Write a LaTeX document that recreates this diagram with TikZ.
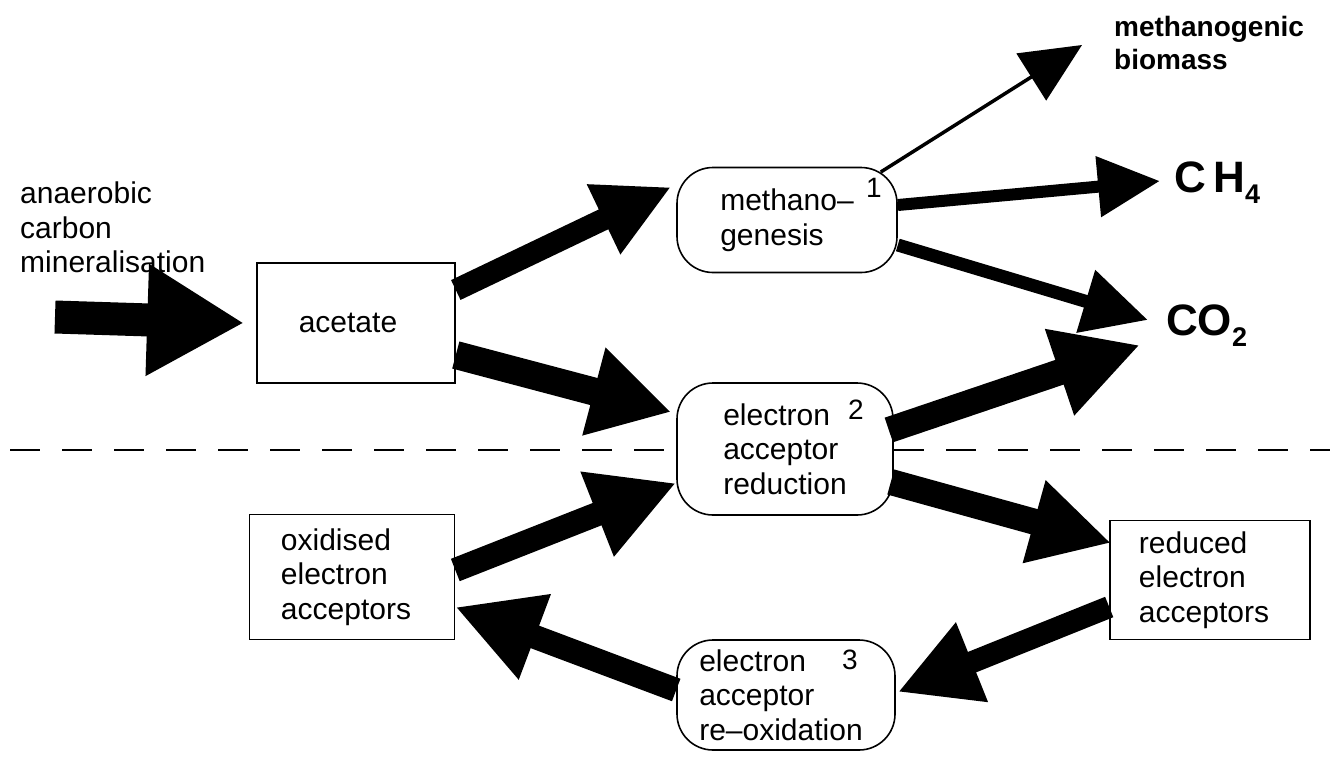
\documentclass[tikz,border=0pt]{standalone}
\usepackage{fontspec}
\setmainfont{Liberation Sans}
\usetikzlibrary{arrows.meta}
\tikzset{
  box/.style={draw, line width=1.6pt, fill=white, align=left, font=\fontsize{30}{34.5}\selectfont, inner sep=0pt},
  rbox/.style={box, rounded corners=36pt},
  lbl/.style={align=left, inner sep=0pt, font=\fontsize{30}{34.5}\selectfont},
  num/.style={inner sep=0pt, font=\fontsize{28}{30}\selectfont},
  chem/.style={anchor=west, inner sep=0pt, font=\bfseries\fontsize{44}{46}\selectfont},
  flow/.style n args={3}{line width=#1, -{Triangle[length=#2, width=#3]}},
  sep/.style={dashed, dash pattern=on 30pt off 22pt, line width=2pt}
}
\newcommand{\chsub}[1]{\raisebox{-11pt}{\fontsize{27}{28}\selectfont\bfseries #1}}
\begin{document}
\begin{tikzpicture}[x=1pt,y=-1pt]
\useasboundingbox (0,0) rectangle (1330,763);
\draw[sep] (10,450) -- (1330,450);
% nodes
\node[box, minimum width=198pt, minimum height=120pt] (acet) at (356,323) {acetate\hspace*{16pt}};
\node[rbox, minimum width=220pt, minimum height=105pt] (meth) at (787,220) {methano--\\genesis\hspace*{30pt}};
\node[rbox, minimum width=216pt, minimum height=132pt] (ear) at (785,449) {electron\\acceptor\\reduction};
\node[rbox, minimum width=218pt, minimum height=110pt] (reox) at (786,695) {electron\\acceptor\\re--oxidation\hspace*{10pt}};
\node[box, minimum width=205pt, minimum height=125pt] (oxid) at (352,577) {oxidised\\electron\\acceptors\hspace*{12pt}};
\node[box, minimum width=200pt, minimum height=119pt] (red) at (1210,580) {reduced\\electron\\acceptors\hspace*{12pt}};
\node[num] (n1) at (874,188) {1};
\node[num] (n2) at (856,410) {2};
\node[num] (n3) at (850,660) {3};
\node[lbl, anchor=north west] (anae) at (20,182) {anaerobic\\carbon\\mineralisation};
\node[lbl, anchor=north west, font=\bfseries\fontsize{28}{33}\selectfont] (bio) at (1114,16) {methanogenic\\biomass};
\node[chem] (ch4) at (1174,183) {C\,H\chsub{4}};
\node[chem] (co2) at (1166,326) {CO\chsub{2}};
\coordinate (src) at (55,317);
\coordinate (biotip) at (1082,45);
% connectors
\draw[flow={33pt}{97pt}{105pt}] (src) -- ([xshift=-12pt]acet.west);
\draw[flow={22pt}{75pt}{72pt}] ([yshift=33pt]acet.east) -- ([xshift=-5pt,yshift=33pt]meth.west);
\draw[flow={28pt}{80pt}{85pt}] ([yshift=-32pt]acet.east) -- ([xshift=-5pt,yshift=37pt]ear.west);
\draw[flow={3.5pt}{60pt}{55pt}] ([xshift=-17pt,yshift=48pt]meth.east) -- (biotip);
\draw[flow={12pt}{62pt}{58pt}] ([yshift=15pt]meth.east) -- ([xshift=-14pt,yshift=2pt]ch4.west);
\draw[flow={13pt}{65pt}{62pt}] ([yshift=-25pt]meth.east) -- ([xshift=-18pt,yshift=6pt]co2.west);
\draw[flow={26pt}{85pt}{85pt}] ([xshift=-5pt,yshift=19pt]ear.east) -- ([xshift=-26pt,yshift=-19pt]co2.west);
\draw[flow={26pt}{80pt}{80pt}] ([xshift=-3pt,yshift=-33pt]ear.east) -- ([xshift=2pt,yshift=37pt]red.west);
\draw[flow={22pt}{80pt}{80pt}] ([yshift=-27pt]red.west) -- ([xshift=2pt,yshift=3pt]reox.east);
\draw[flow={24pt}{85pt}{85pt}] ([yshift=5pt]reox.west) -- ([yshift=-30pt]oxid.east);
\draw[flow={24pt}{85pt}{85pt}] ([yshift=7pt]oxid.east) -- ([yshift=-34pt]ear.west);
\end{tikzpicture}
\end{document}
